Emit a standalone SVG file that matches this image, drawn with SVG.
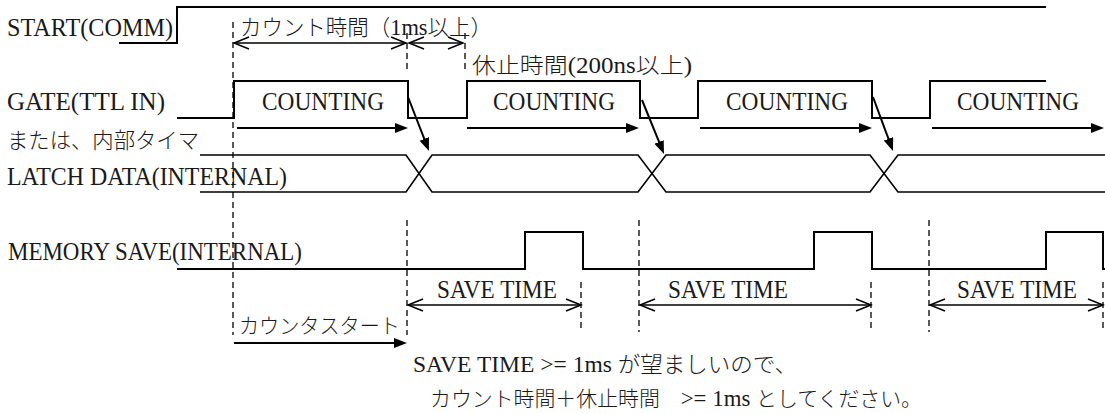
<svg xmlns="http://www.w3.org/2000/svg" width="1105" height="414" viewBox="0 0 1105 414">
<style>
.t{font-family:"Liberation Serif","Noto Sans CJK JP",serif;fill:#1a1a1a;font-size:26px}
.j{font-family:"Liberation Serif","Noto Sans CJK JP",serif;fill:#1a1a1a;font-size:22px;font-weight:300}
.l{font-size:23px;font-weight:400}
.sig{fill:none;stroke:#000;stroke-width:2}
.lat{fill:none;stroke:#000;stroke-width:1.6}
.dash{fill:none;stroke:#000;stroke-width:1.3;stroke-dasharray:6 4}
.dbl{fill:none;stroke:#000;stroke-width:1.5;marker-start:url(#open);marker-end:url(#open)}
.arr{fill:none;stroke:#000;stroke-width:2;marker-end:url(#solid)}
</style>
<defs>
<marker id="open" markerUnits="userSpaceOnUse" viewBox="0 0 18 16" markerWidth="18" markerHeight="16" refX="16" refY="7" orient="auto-start-reverse">
<path d="M1,1 L16,7 L1,13" fill="none" stroke="#000" stroke-width="1.5"/>
</marker>
<marker id="solid" markerUnits="userSpaceOnUse" viewBox="0 0 14 11" markerWidth="14" markerHeight="11" refX="7" refY="5" orient="auto">
<path d="M0,0 L13,5 L0,10 z" fill="#000"/>
</marker>
</defs>

<g id="labels">
<text class="t" x="7" y="36" textLength="166" lengthAdjust="spacingAndGlyphs">START(COMM)</text>
<text class="t" x="7" y="110" textLength="158" lengthAdjust="spacingAndGlyphs">GATE(TTL IN)</text>
<text class="j" x="7" y="148" textLength="192" lengthAdjust="spacingAndGlyphs">または、内部タイマ</text>
<text class="t" x="7" y="185" textLength="280" lengthAdjust="spacingAndGlyphs">LATCH DATA(INTERNAL)</text>
<text class="t" x="8" y="260" textLength="294" lengthAdjust="spacingAndGlyphs">MEMORY SAVE(INTERNAL)</text>
</g>

<g id="signal-start">
<path class="sig" d="M119,43 H177 V7 H1046"/>
</g>
<g id="signal-gate">
<path class="sig" d="M177,118 H234 V81 H408 V118 H467 V81 H640 V118 H698 V81 H872 V118 H930 V81 H1046"/>
<text class="t" x="262" y="110" textLength="122" lengthAdjust="spacingAndGlyphs">COUNTING</text>
<text class="t" x="493" y="110" textLength="122" lengthAdjust="spacingAndGlyphs">COUNTING</text>
<text class="t" x="726" y="110" textLength="122" lengthAdjust="spacingAndGlyphs">COUNTING</text>
<text class="t" x="957" y="110" textLength="122" lengthAdjust="spacingAndGlyphs">COUNTING</text>
</g>
<g id="signal-latch">
<path class="lat" d="M200,155 H406 L432,192 H638 L666,155 H870 L898,192 H1105"/>
<path class="lat" d="M200,192 H406 L432,155 H638 L666,192 H870 L898,155 H1105"/>
</g>
<g id="signal-memory">
<path class="sig" d="M177,269 H525 V232 H583 V269 H814 V232 H872 V269 H1046 V232 H1103 V269 H1105"/>
</g>

<g id="guides">
<path class="dash" d="M233,22 V335"/>
<path class="dash" d="M407,33 V72"/>
<path class="dash" d="M407,220 V335"/>
<path class="dash" d="M465,33 V72"/>
<path class="dash" d="M639,220 V332"/>
<path class="dash" d="M929,220 V332"/>
<path class="dash" d="M581,282 V330"/>
<path class="dash" d="M871,282 V330"/>
<path class="dash" d="M1103,282 V330"/>
</g>

<g id="connectors">
<path class="dbl" d="M234,43 H406"/>
<path class="dbl" d="M409,43 H463"/>
<path class="dbl" d="M408,305 H581"/>
<path class="dbl" d="M640,305 H871"/>
<path class="dbl" d="M930,305 H1103"/>
<path class="arr" d="M237,128 H402"/>
<path class="arr" d="M467,128 H633"/>
<path class="arr" d="M700,128 H866"/>
<path class="arr" d="M932,128 H1098"/>
<path class="arr" d="M234,343 H401"/>
<path class="arr" d="M408,97 L426.8,145.4"/>
<path class="arr" d="M642,100 L661.7,148.4"/>
<path class="arr" d="M873,97 L890.9,145.4"/>
</g>

<g id="annotations">
<text class="j" x="240" y="35" textLength="252" lengthAdjust="spacingAndGlyphs">カウント時間（<tspan class="l">1ms</tspan>以上）</text>
<text class="j" x="472" y="73" textLength="220" lengthAdjust="spacingAndGlyphs">休止時間<tspan class="l">(200ns</tspan>以上<tspan class="l">)</tspan></text>
<text class="t" x="437" y="298" textLength="120" lengthAdjust="spacingAndGlyphs">SAVE TIME</text>
<text class="t" x="668" y="298" textLength="120" lengthAdjust="spacingAndGlyphs">SAVE TIME</text>
<text class="t" x="957" y="298" textLength="120" lengthAdjust="spacingAndGlyphs">SAVE TIME</text>
<text class="j" x="239" y="333" style="font-size:21px" textLength="161" lengthAdjust="spacingAndGlyphs">カウンタスタート</text>
<text class="j" x="413" y="372" textLength="384" lengthAdjust="spacingAndGlyphs"><tspan class="l">SAVE TIME &gt;= 1ms </tspan>が望ましいので、</text>
<text class="j" x="430" y="406" style="font-size:21px" textLength="492" lengthAdjust="spacingAndGlyphs">カウント時間＋休止時間　<tspan class="l">&gt;= 1ms </tspan>としてください。</text>
</g>
</svg>
